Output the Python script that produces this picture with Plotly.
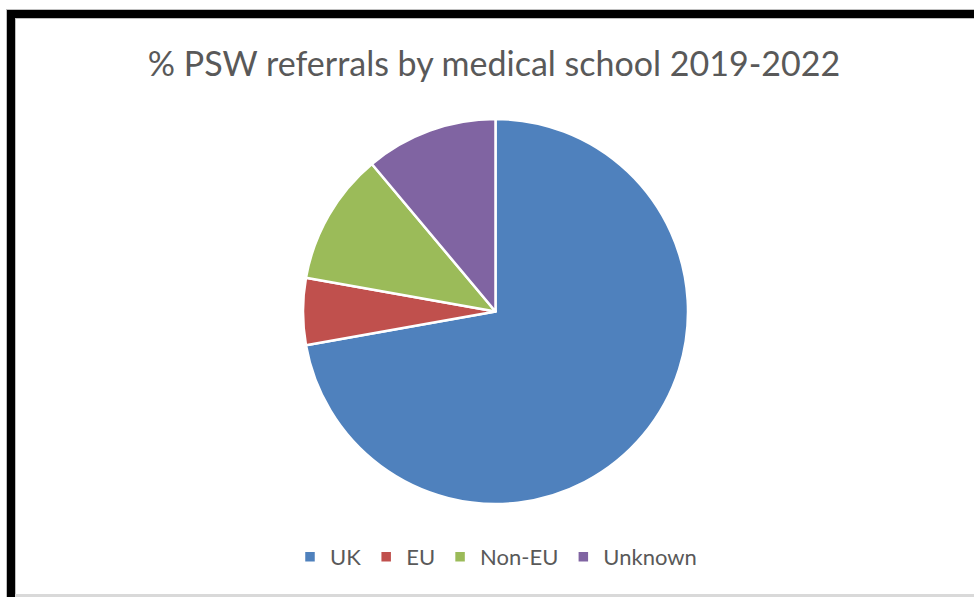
import plotly.graph_objects as go

# Share of PSW referrals by where the doctor trained, 2019-2022
categories = ["UK", "EU", "Non-EU", "Unknown"]
percentages = [72.2, 5.6, 11.1, 11.1]
colors = ["#4F81BD", "#C0504D", "#9BBB59", "#8064A2"]

W, H = 974, 597


def px_x(x):
    return x / W


def px_y(y):
    return 1 - y / H


fig = go.Figure(
    go.Pie(
        labels=categories,
        values=percentages,
        sort=False,
        direction="clockwise",
        rotation=0,
        textinfo="none",
        hoverinfo="label+percent",
        marker=dict(colors=colors, line=dict(color="white", width=2.5)),
        domain=dict(x=[px_x(303), px_x(688)], y=[px_y(504), px_y(119)]),
    )
)

frame_shapes = [
    # thin grey outline around the frame
    dict(type="rect", x0=px_x(6), x1=px_x(W + 5), y0=px_y(9), y1=px_y(19),
         fillcolor="#BFBFBF", line_width=0),
    dict(type="rect", x0=px_x(6), x1=px_x(16), y0=px_y(9), y1=px_y(H + 5),
         fillcolor="#BFBFBF", line_width=0),
    # heavy black frame along top and left
    dict(type="rect", x0=px_x(7), x1=px_x(W + 5), y0=px_y(10), y1=px_y(18),
         fillcolor="black", line_width=0),
    dict(type="rect", x0=px_x(7), x1=px_x(15), y0=px_y(10), y1=px_y(H + 5),
         fillcolor="black", line_width=0),
    # light bottom edge
    dict(type="rect", x0=px_x(15), x1=px_x(W + 5), y0=px_y(594), y1=px_y(597),
         fillcolor="#D9D9D9", line_width=0),
]

fig.update_layout(
    width=W,
    height=H,
    margin=dict(l=0, r=0, t=0, b=0),
    paper_bgcolor="white",
    plot_bgcolor="white",
    font=dict(family="Lato, 'Open Sans', sans-serif", color="#595959"),
    title=dict(
        text="% PSW referrals by medical school 2019-2022",
        x=px_x(494),
        xanchor="center",
        y=px_y(64),
        yanchor="middle",
        font=dict(size=34, color="#595959"),
    ),
    showlegend=True,
    legend=dict(
        orientation="h",
        x=px_x(496),
        xanchor="center",
        y=px_y(557),
        yanchor="middle",
        font=dict(size=22, color="#595959"),
        itemwidth=30,
        traceorder="normal",
    ),
    shapes=frame_shapes,
)

fig.write_html("out.html")
